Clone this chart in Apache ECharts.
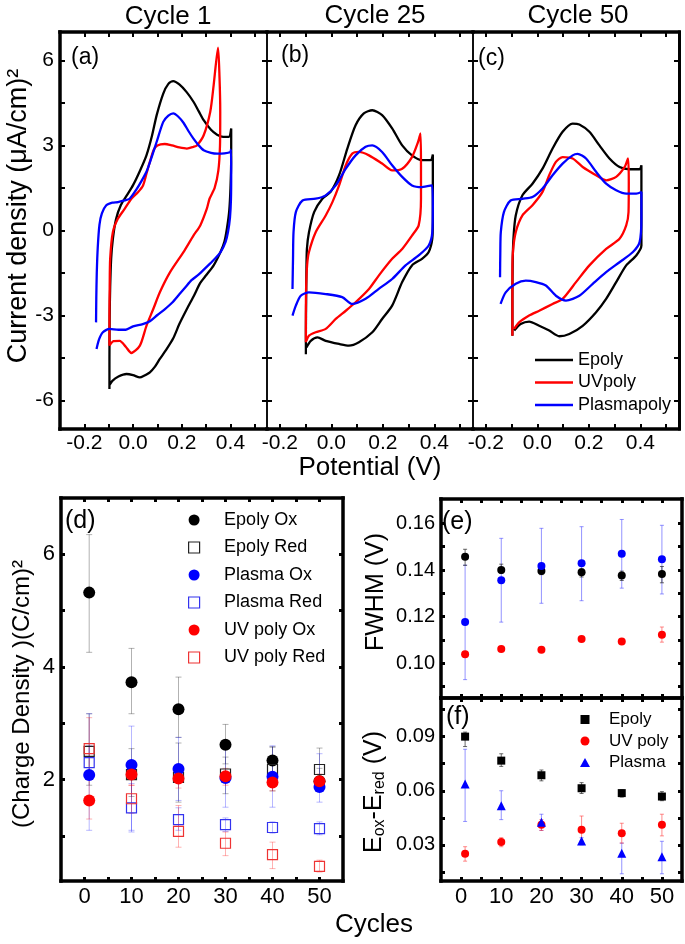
<!DOCTYPE html>
<html><head><meta charset="utf-8">
<script src="https://cdn.jsdelivr.net/npm/echarts@6/dist/echarts.min.js"></script>
<style>html,body{margin:0;padding:0;background:#fff}#c{width:685px;height:944px}</style>
</head><body><div id="c"></div>
<script>
const FF = '"Liberation Sans", Arial, sans-serif';

// ---------- CV curves: [potential (V), current density] ----------
const cv1Epoly = [[-0.097,-5.59],[-0.097,-4.5],[-0.096,-3.0],[-0.094,-2.0],[-0.090,-1.0],[-0.083,-0.3],[-0.070,0.4],[-0.050,0.9],[-0.025,1.25],[0.0,1.6],[0.028,2.1],[0.055,2.65],[0.078,3.35],[0.097,4.07],[0.124,4.83],[0.145,5.17],[0.165,5.27],[0.19,5.15],[0.22,4.88],[0.248,4.54],[0.27,4.2],[0.29,3.89],[0.32,3.55],[0.345,3.38],[0.37,3.3],[0.393,3.30],[0.403,3.6],[0.403,2.6],[0.400,1.5],[0.395,0.7],[0.386,0.1],[0.375,-0.4],[0.359,-0.76],[0.331,-1.23],[0.30,-1.58],[0.276,-1.85],[0.25,-2.3],[0.221,-2.77],[0.19,-3.3],[0.165,-3.8],[0.135,-4.22],[0.110,-4.53],[0.09,-4.8],[0.069,-5.0],[0.045,-5.12],[0.028,-5.18],[0.0,-5.1],[-0.027,-5.06],[-0.06,-5.15],[-0.085,-5.3],[-0.097,-5.45]];
const cv1UV = [[-0.097,-4.06],[-0.097,-3.0],[-0.096,-2.0],[-0.094,-1.0],[-0.083,-0.06],[-0.062,0.42],[-0.034,0.77],[-0.007,1.12],[0.02,1.35],[0.041,1.59],[0.055,2.0],[0.069,2.42],[0.085,2.85],[0.1,3.0],[0.13,3.05],[0.16,3.0],[0.19,2.93],[0.221,2.89],[0.248,2.95],[0.262,3.0],[0.29,3.36],[0.317,4.19],[0.331,5.13],[0.349,6.45],[0.355,5.4],[0.358,4.2],[0.357,3.0],[0.35,2.1],[0.335,1.5],[0.314,1.12],[0.303,0.77],[0.276,0.18],[0.248,-0.18],[0.207,-0.76],[0.152,-1.47],[0.11,-2.18],[0.083,-2.77],[0.055,-3.36],[0.028,-4.06],[-0.007,-4.32],[-0.03,-4.1],[-0.055,-3.89],[-0.08,-3.9],[-0.097,-4.06]];
const cv1Plasma = [[-0.152,-3.24],[-0.151,-2.4],[-0.149,-1.5],[-0.145,-0.6],[-0.138,0.2],[-0.128,0.6],[-0.11,0.89],[-0.085,0.98],[-0.062,1.0],[-0.035,1.06],[-0.014,1.12],[0.014,1.45],[0.035,1.75],[0.055,2.07],[0.075,2.55],[0.097,3.13],[0.124,3.83],[0.145,4.05],[0.165,4.13],[0.185,4.02],[0.207,3.8],[0.228,3.5],[0.248,3.24],[0.27,3.0],[0.29,2.83],[0.32,2.74],[0.345,2.71],[0.375,2.72],[0.4,2.77],[0.402,2.85],[0.403,2.0],[0.402,1.1],[0.398,0.45],[0.39,-0.05],[0.38,-0.4],[0.36,-0.75],[0.33,-1.05],[0.3,-1.3],[0.27,-1.55],[0.24,-1.75],[0.215,-2.0],[0.19,-2.25],[0.16,-2.55],[0.13,-2.78],[0.1,-2.98],[0.069,-3.2],[0.04,-3.3],[0.0,-3.38],[-0.03,-3.5],[-0.06,-3.5],[-0.097,-3.47],[-0.124,-3.59],[-0.14,-3.85],[-0.15,-4.18]];

const cv25Epoly = [[-0.099,-4.36],[-0.099,-3.5],[-0.098,-2.5],[-0.097,-1.5],[-0.095,-0.65],[-0.087,-0.06],[-0.067,0.65],[-0.035,1.12],[-0.003,1.36],[0.03,1.95],[0.062,2.89],[0.094,3.71],[0.126,4.13],[0.159,4.24],[0.197,4.07],[0.236,3.6],[0.275,3.0],[0.313,2.65],[0.352,2.48],[0.385,2.48],[0.394,2.68],[0.394,1.5],[0.394,0.3],[0.392,-0.29],[0.378,-0.76],[0.352,-1.0],[0.313,-1.23],[0.275,-1.82],[0.236,-2.65],[0.197,-3.12],[0.159,-3.59],[0.107,-3.94],[0.068,-4.06],[0.03,-4.0],[-0.022,-3.89],[-0.054,-3.77],[-0.08,-3.89],[-0.097,-4.12]];
const cv25UV = [[-0.099,-3.94],[-0.099,-3.0],[-0.098,-2.0],[-0.094,-1.2],[-0.087,-0.76],[-0.061,-0.06],[-0.022,0.53],[0.004,1.0],[0.03,1.59],[0.056,2.3],[0.081,2.71],[0.107,2.77],[0.146,2.65],[0.197,2.36],[0.236,2.12],[0.275,2.18],[0.313,2.59],[0.337,3.13],[0.346,3.42],[0.348,2.3],[0.348,1.12],[0.339,0.18],[0.313,-0.18],[0.275,-0.65],[0.236,-1.0],[0.184,-1.59],[0.146,-2.06],[0.094,-2.53],[0.056,-2.83],[0.017,-3.12],[-0.022,-3.47],[-0.061,-3.59],[-0.087,-3.71],[-0.097,-3.89]];
const cv25Plasma = [[-0.151,-2.06],[-0.149,-1.0],[-0.147,-0.06],[-0.138,0.65],[-0.112,1.06],[-0.061,1.12],[-0.022,1.24],[0.017,1.59],[0.056,2.18],[0.094,2.65],[0.133,2.95],[0.159,3.0],[0.197,2.77],[0.236,2.3],[0.275,1.89],[0.313,1.59],[0.352,1.53],[0.391,1.59],[0.394,0.89],[0.392,-0.06],[0.378,-0.53],[0.339,-0.88],[0.288,-1.23],[0.236,-1.71],[0.184,-2.06],[0.133,-2.41],[0.081,-2.59],[0.042,-2.35],[-0.022,-2.24],[-0.087,-2.18],[-0.119,-2.3],[-0.138,-2.65],[-0.151,-3.0]];

const cv50Epoly = [[-0.097,-3.71],[-0.097,-2.5],[-0.096,-1.2],[-0.093,-0.29],[-0.084,0.53],[-0.058,1.24],[-0.019,1.65],[0.02,2.18],[0.059,2.89],[0.098,3.48],[0.137,3.77],[0.163,3.74],[0.202,3.48],[0.241,3.0],[0.28,2.54],[0.319,2.24],[0.358,2.16],[0.397,2.16],[0.404,2.3],[0.404,1.0],[0.404,-0.53],[0.384,-0.88],[0.345,-1.23],[0.306,-1.82],[0.267,-2.41],[0.228,-2.88],[0.176,-3.36],[0.124,-3.65],[0.085,-3.73],[0.046,-3.53],[0.007,-3.36],[-0.032,-3.21],[-0.065,-3.3],[-0.09,-3.53]];
const cv50UV = [[-0.097,-3.71],[-0.097,-2.5],[-0.097,-1.5],[-0.095,-0.76],[-0.084,-0.06],[-0.058,0.53],[-0.019,0.89],[0.02,1.36],[0.046,1.95],[0.072,2.42],[0.098,2.59],[0.137,2.54],[0.176,2.24],[0.228,1.95],[0.267,1.77],[0.306,1.89],[0.339,2.24],[0.352,2.54],[0.355,1.71],[0.354,0.65],[0.345,0.18],[0.319,-0.29],[0.267,-0.65],[0.202,-1.23],[0.15,-1.82],[0.098,-2.41],[0.059,-2.59],[0.007,-2.83],[-0.032,-3.0],[-0.071,-3.24],[-0.09,-3.47]];
const cv50Plasma = [[-0.145,-1.65],[-0.144,-0.8],[-0.142,-0.06],[-0.13,0.65],[-0.104,1.06],[-0.058,1.12],[-0.019,1.18],[0.02,1.48],[0.059,1.95],[0.098,2.36],[0.137,2.65],[0.156,2.7],[0.189,2.54],[0.228,2.07],[0.267,1.65],[0.306,1.42],[0.345,1.3],[0.384,1.3],[0.404,1.36],[0.404,0.42],[0.397,-0.41],[0.371,-0.76],[0.319,-1.12],[0.267,-1.47],[0.215,-1.88],[0.163,-2.3],[0.111,-2.47],[0.072,-2.3],[0.033,-1.94],[-0.006,-1.82],[-0.045,-1.77],[-0.084,-1.88],[-0.123,-2.18],[-0.143,-2.59]];

const cvNames = ['Epoly', 'UVpoly', 'Plasmapoly'];
const cvTitles = ['Cycle 1', 'Cycle 25', 'Cycle 50'];

// ---------- cycle-dependent quantities ----------
const cycles = [1, 10, 20, 30, 40, 50];

const chargeEpolyOx = [5.32, 3.73, 3.25, 2.62, 2.34, 1.97];
const chargeEpolyOxLo = [4.26, 3.17, 2.75, 2.28, 2.12, 1.8];
const chargeEpolyOxHi = [6.35, 4.33, 3.82, 2.98, 2.58, 2.2];
const chargeEpolyRed = [2.5, 2.09, 2.04, 2.1, 2.18, 2.18];
const chargeEpolyRedLo = [1.9, 1.7, 1.6, 1.75, 1.8, 1.85];
const chargeEpolyRedHi = [3.17, 2.55, 2.65, 2.4, 2.58, 2.56];
const chargePlasmaOx = [2.08, 2.26, 2.19, 2.03, 2.05, 1.87];
const chargePlasmaOxLo = [1.1, 1.07, 1.63, 1.51, 1.51, 1.6];
const chargePlasmaOxHi = [3.17, 2.95, 2.75, 2.6, 2.6, 2.46];
const chargePlasmaRed = [2.3, 1.5, 1.29, 1.2, 1.15, 1.13];
const chargePlasmaRedLo = [2.0, 1.1, 1.1, 1.08, 1.05, 1.02];
const chargePlasmaRedHi = [2.6, 1.93, 1.5, 1.32, 1.25, 1.25];
const chargeUVOx = [1.63, 2.09, 2.02, 2.06, 1.95, 1.97];
const chargeUVOxLo = [1.3, 1.9, 1.85, 1.9, 1.8, 1.85];
const chargeUVOxHi = [2.0, 2.3, 2.2, 2.2, 2.1, 2.1];
const chargeUVRed = [2.55, 1.66, 1.08, 0.87, 0.67, 0.46];
const chargeUVRedLo = [2.0, 1.4, 0.8, 0.65, 0.42, 0.36];
const chargeUVRedHi = [3.1, 1.9, 1.54, 1.07, 0.89, 0.57];

const fwhmEpoly = [0.1457, 0.140, 0.1396, 0.139, 0.1376, 0.1383];
const fwhmEpolyLo = [0.142, 0.1385, 0.138, 0.137, 0.1355, 0.1345];
const fwhmEpolyHi = [0.1489, 0.1425, 0.141, 0.1405, 0.1395, 0.1415];
const fwhmPlasma = [0.1176, 0.1356, 0.1417, 0.1429, 0.147, 0.1446];
const fwhmPlasmaLo = [0.0929, 0.1176, 0.1257, 0.1268, 0.1322, 0.1297];
const fwhmPlasmaHi = [0.1421, 0.1536, 0.1579, 0.1586, 0.1617, 0.1592];
const fwhmUV = [0.1038, 0.106, 0.1057, 0.1103, 0.1093, 0.1122];
const fwhmUVLo = [0.1025, 0.105, 0.1047, 0.1093, 0.1083, 0.109];
const fwhmUVHi = [0.105, 0.107, 0.1067, 0.1113, 0.1103, 0.1155];

const dEEpoly = [0.090, 0.0767, 0.0686, 0.0614, 0.0587, 0.0568];
const dEEpolyLo = [0.0845, 0.0735, 0.0655, 0.0585, 0.0565, 0.0545];
const dEEpolyHi = [0.0925, 0.0805, 0.0715, 0.0645, 0.0605, 0.0595];
const dEUV = [0.0251, 0.0316, 0.0411, 0.0384, 0.0365, 0.0411];
const dEUVLo = [0.021, 0.029, 0.038, 0.032, 0.031, 0.035];
const dEUVHi = [0.029, 0.034, 0.044, 0.046, 0.042, 0.047];
const dEPlasma = [0.0638, 0.0517, 0.0425, 0.0322, 0.0254, 0.0235];
const dEPlasmaLo = [0.043, 0.044, 0.038, 0.030, 0.014, 0.014];
const dEPlasmaHi = [0.083, 0.060, 0.047, 0.034, 0.031, 0.032];

// ---------- tick values ----------
const cvXTicks = [-0.2, -0.1, 0, 0.1, 0.2, 0.3, 0.4, 0.5];
const cvXLabels = [-0.2, 0, 0.2, 0.4];
const cvYTicks = [-6, -4.5, -3, -1.5, 0, 1.5, 3, 4.5, 6];
const cvYLabels = [-6, -3, 0, 3, 6];
const cycTicks = [0, 5, 10, 15, 20, 25, 30, 35, 40, 45, 50];
const cycLabels = [0, 10, 20, 30, 40, 50];
const chargeTicks = [1, 2, 3, 4, 5, 6];
const chargeLabels = [2, 4, 6];
const fwhmTicks = [0.09, 0.10, 0.11, 0.12, 0.13, 0.14, 0.15, 0.16];
const fwhmLabels = [0.10, 0.12, 0.14, 0.16];
const dETicks = [0.015, 0.03, 0.045, 0.06, 0.075, 0.09, 0.105];
const dELabels = [0.03, 0.06, 0.09];

const BLACK = '#000000', RED = '#ff0000', BLUE = '#0000ff';

function ax(o) {
  return {
    type: 'value', gridIndex: o.g, min: o.min, max: o.max, position: o.pos,
    axisLine: {show: true, onZero: false, lineStyle: {color: '#000', width: o.lw, cap: 'square'}},
    axisTick: {show: true, inside: true, length: o.tl || 5, lineStyle: {color: '#000', width: o.tw || 2}, customValues: o.ticks},
    axisLabel: {show: !!o.labels, customValues: o.labels || [], formatter: o.fmt, fontSize: o.fs || 21,
      fontFamily: FF, color: '#000', margin: o.margin || 5},
    splitLine: {show: false}, minorTick: {show: false}, splitArea: {show: false}
  };
}
const f1 = v => Number(v).toFixed(1);
const f0 = v => String(Math.round(v));
const f2 = v => Number(v).toFixed(2);

const grids = [
  {left: 60, top: 32, width: 207, height: 397},
  {left: 267, top: 32, width: 206, height: 397},
  {left: 473, top: 32, width: 206, height: 397},
  {left: 61, top: 498, width: 282, height: 383},
  {left: 441, top: 499, width: 241, height: 199},
  {left: 441, top: 698, width: 241, height: 183}
];

const xAxes = [], yAxes = [];
const cvXRange = [[-0.3, 0.55], [-0.25, 0.55], [-0.25, 0.55]];
const leftW = [3.5, 1.5, 1.5], rightW = [1.5, 1.5, 3];
for (let g = 0; g < 3; g++) {
  xAxes.push(ax({g, min: cvXRange[g][0], max: cvXRange[g][1], pos: 'bottom', lw: 3.5, ticks: cvXTicks, labels: cvXLabels, fmt: f1, fs: 21, margin: 4}));
  xAxes.push(ax({g, min: cvXRange[g][0], max: cvXRange[g][1], pos: 'top', lw: 3.5, ticks: cvXTicks}));
  yAxes.push(ax({g, min: -7, max: 7, pos: 'left', lw: leftW[g], ticks: cvYTicks, labels: g === 0 ? cvYLabels : null, fmt: f0, fs: 21, margin: 6}));
  yAxes.push(ax({g, min: -7, max: 7, pos: 'right', lw: rightW[g], ticks: cvYTicks}));
}
// (d)
xAxes.push(ax({g: 3, min: -5, max: 55, pos: 'bottom', lw: 3.5, ticks: cycTicks, labels: cycLabels, fmt: f0, fs: 22, tl: 4, tw: 3, margin: 5}));
xAxes.push(ax({g: 3, min: -5, max: 55, pos: 'top', lw: 3.5, ticks: cycTicks, tl: 4, tw: 3}));
yAxes.push(ax({g: 3, min: 0.2, max: 7.0, pos: 'left', lw: 3.5, ticks: chargeTicks, labels: chargeLabels, fmt: f0, fs: 22, tl: 4, tw: 3, margin: 6}));
yAxes.push(ax({g: 3, min: 0.2, max: 7.0, pos: 'right', lw: 3.5, ticks: chargeTicks, tl: 4, tw: 3}));
// (e)
xAxes.push(ax({g: 4, min: -5, max: 55, pos: 'bottom', lw: 3.5, ticks: cycTicks, tl: 4, tw: 3}));
xAxes.push(ax({g: 4, min: -5, max: 55, pos: 'top', lw: 3.5, ticks: cycTicks, tl: 4, tw: 3}));
yAxes.push(ax({g: 4, min: 0.085, max: 0.1705, pos: 'left', lw: 3.5, ticks: fwhmTicks, labels: fwhmLabels, fmt: f2, fs: 20, tl: 4, tw: 3, margin: 6}));
yAxes.push(ax({g: 4, min: 0.085, max: 0.1705, pos: 'right', lw: 3.5, ticks: fwhmTicks, tl: 4, tw: 3}));
// (f)
xAxes.push(ax({g: 5, min: -5, max: 55, pos: 'bottom', lw: 3.5, ticks: cycTicks, labels: cycLabels, fmt: f0, fs: 22, tl: 4, tw: 3, margin: 5}));
xAxes.push(ax({g: 5, min: -5, max: 55, pos: 'top', lw: 3.5, ticks: cycTicks, tl: 4, tw: 3}));
yAxes.push(ax({g: 5, min: 0.01, max: 0.1114, pos: 'left', lw: 3.5, ticks: dETicks, labels: dELabels, fmt: f2, fs: 20, tl: 4, tw: 3, margin: 6}));
yAxes.push(ax({g: 5, min: 0.01, max: 0.1114, pos: 'right', lw: 3.5, ticks: dETicks, tl: 4, tw: 3}));

const series = [];
const cvSets = [[cv1Epoly, cv1UV, cv1Plasma], [cv25Epoly, cv25UV, cv25Plasma], [cv50Epoly, cv50UV, cv50Plasma]];
const cvColors = [BLACK, RED, BLUE];
cvSets.forEach((set, g) => {
  set.forEach((curve, k) => {
    series.push({type: 'line', name: cvNames[k], xAxisIndex: 2 * g, yAxisIndex: 2 * g, data: curve,
      showSymbol: false, symbol: 'none', smooth: 0.25, lineStyle: {color: cvColors[k], width: 2.3},
      itemStyle: {color: cvColors[k]}, z: 2 + k});
  });
});

function errSeries(xi, lo, hi, color, cap) {
  return {type: 'custom', name: '_err', coordinateSystem: 'cartesian2d', xAxisIndex: xi, yAxisIndex: xi, silent: true, z: 1,
    data: cycles.map((c, i) => [c, lo[i], hi[i]]), encode: {x: 0, y: [1, 2]},
    renderItem: function (params, api) {
      const x = api.value(0), a = api.coord([x, api.value(1)]), b = api.coord([x, api.value(2)]);
      const h = cap / 2, st = {stroke: color, lineWidth: 1, fill: null};
      return {type: 'group', children: [
        {type: 'line', shape: {x1: a[0], y1: a[1], x2: b[0], y2: b[1]}, style: st},
        {type: 'line', shape: {x1: a[0] - h, y1: a[1], x2: a[0] + h, y2: a[1]}, style: st},
        {type: 'line', shape: {x1: b[0] - h, y1: b[1], x2: b[0] + h, y2: b[1]}, style: st}]};
    }};
}
const SQ = 'path://M0,0L10,0L10,10L0,10Z';
const TRI = 'path://M5,0L10,9L0,9Z';
function sc(name, xi, vals, symbol, size, color, open, z) {
  return {type: 'scatter', name, xAxisIndex: xi, yAxisIndex: xi, data: cycles.map((c, i) => [c, vals[i]]),
    symbol, symbolSize: size, z: z || 3,
    itemStyle: open ? {color: 'rgba(255,255,255,0)', borderColor: color, borderWidth: 1.2, opacity: 1}
                    : {color, borderWidth: 0, opacity: 1}};
}
// (d)
const eK = 'rgba(0,0,0,0.3)', eB = 'rgba(0,0,255,0.28)', eR = 'rgba(255,0,0,0.3)';
series.push(errSeries(6, chargeEpolyOxLo, chargeEpolyOxHi, eK, 6));
series.push(errSeries(6, chargeEpolyRedLo, chargeEpolyRedHi, eK, 6));
series.push(errSeries(6, chargePlasmaOxLo, chargePlasmaOxHi, eB, 6));
series.push(errSeries(6, chargePlasmaRedLo, chargePlasmaRedHi, eB, 6));
series.push(errSeries(6, chargeUVOxLo, chargeUVOxHi, eR, 6));
series.push(errSeries(6, chargeUVRedLo, chargeUVRedHi, eR, 6));
series.push(sc('Epoly Ox', 6, chargeEpolyOx, 'circle', 12, BLACK, false, 3));
series.push(sc('Epoly Red', 6, chargeEpolyRed, SQ, 10, '#222', true, 3));
series.push(sc('Plasma Ox', 6, chargePlasmaOx, 'circle', 12, BLUE, false, 4));
series.push(sc('Plasma Red', 6, chargePlasmaRed, SQ, 10, '#3333ee', true, 4));
series.push(sc('UV poly Ox', 6, chargeUVOx, 'circle', 12, RED, false, 5));
series.push(sc('UV poly Red', 6, chargeUVRed, SQ, 10, '#ee3333', true, 5));
// (e)
series.push(errSeries(8, fwhmPlasmaLo, fwhmPlasmaHi, 'rgba(60,60,255,0.55)', 4));
series.push(errSeries(8, fwhmEpolyLo, fwhmEpolyHi, 'rgba(40,40,40,0.7)', 4));
series.push(errSeries(8, fwhmUVLo, fwhmUVHi, 'rgba(255,60,60,0.6)', 4));
series.push(sc('FWHM Epoly', 8, fwhmEpoly, 'circle', 8, BLACK, false));
series.push(sc('FWHM Plasma', 8, fwhmPlasma, 'circle', 8, BLUE, false));
series.push(sc('FWHM UV', 8, fwhmUV, 'circle', 8, RED, false));
// (f)
series.push(errSeries(10, dEPlasmaLo, dEPlasmaHi, 'rgba(60,60,255,0.55)', 4));
series.push(errSeries(10, dEEpolyLo, dEEpolyHi, 'rgba(40,40,40,0.7)', 4));
series.push(errSeries(10, dEUVLo, dEUVHi, 'rgba(255,60,60,0.6)', 4));
series.push(sc('Epoly ', 10, dEEpoly, SQ, 8, BLACK, false));
series.push(sc('UV poly', 10, dEUV, 'circle', 8, RED, false));
series.push(sc('Plasma', 10, dEPlasma, TRI, 9, BLUE, false));

function T(text, x, y, size, align, rot, rich) {
  const st = {text, x: 0, y: 0, fontSize: size, fontFamily: FF, fill: '#000',
    align: align || 'center', verticalAlign: 'middle', textAlign: align || 'center', textVerticalAlign: 'middle'};
  if (rich) st.rich = rich;
  return {type: 'text', x, y, rotation: rot || 0, silent: true, style: st};
}
const R90 = Math.PI / 2;
const graphics = [
  T(cvTitles[0], 168, 17, 26), T(cvTitles[1], 375, 16, 26), T(cvTitles[2], 578, 16, 26),
  T('(a)', 71, 58, 23, 'left'), T('(b)', 281, 56, 23, 'left'), T('(c)', 478, 59, 23, 'left'),
  T('(d)', 65, 521, 25, 'left'), T('(e)', 442, 522, 25, 'left'), T('(f)', 446, 717, 25, 'left'),
  T('Potential (V)', 370, 468, 26),
  T('Cycles', 374, 925, 26),
  T('Current density (\u03bcA/cm)\u00b2', 19, 216, 27, 'center', R90),
  T('(Charge Density )(C/cm)\u00b2', 22, 694, 24, 'center', R90),
  T('FWHM (V)', 376, 592, 25, 'center', R90),
  T('{n|E}{s|ox}{n|-E}{s|red}{n| (V)}', 374, 792, 25, 'center', R90,
    {n: {fontSize: 25, fontFamily: FF, fill: '#000', color: '#000'}, s: {fontSize: 16, fontFamily: FF, fill: '#000', color: '#000', padding: [12, 0, 0, 0]}})
];

const legends = [
  {data: cvNames, orient: 'vertical', left: 535, top: 351, padding: 0, icon: 'rect', itemWidth: 38, itemHeight: 2.5, itemGap: 4.5,
    selectedMode: false, textStyle: {fontSize: 18, fontFamily: FF, color: '#000'}},
  {data: [
      {name: 'Epoly Ox', icon: 'circle'},
      {name: 'Epoly Red', icon: SQ, itemStyle: {color: 'rgba(255,255,255,0)', borderColor: '#222', borderWidth: 1.2}},
      {name: 'Plasma Ox', icon: 'circle'},
      {name: 'Plasma Red', icon: SQ, itemStyle: {color: 'rgba(255,255,255,0)', borderColor: '#3333ee', borderWidth: 1.2}},
      {name: 'UV poly Ox', icon: 'circle'},
      {name: 'UV poly Red', icon: SQ, itemStyle: {color: 'rgba(255,255,255,0)', borderColor: '#ee3333', borderWidth: 1.2}}],
    orient: 'vertical', left: 188, top: 511, padding: 0, itemWidth: 50, itemHeight: 11, itemGap: 9.5, symbolKeepAspect: true,
    selectedMode: false, textStyle: {fontSize: 18, fontFamily: FF, color: '#000'}},
  {data: [{name: 'Epoly ', icon: SQ}, {name: 'UV poly', icon: 'circle'}, {name: 'Plasma', icon: TRI}],
    orient: 'vertical', left: 580, top: 711, padding: 0, itemWidth: 38, itemHeight: 9, itemGap: 4.5, symbolKeepAspect: true,
    selectedMode: false, textStyle: {fontSize: 17, fontFamily: FF, color: '#000'}}
];

const chart = echarts.init(document.getElementById('c'), null, {renderer: 'canvas'});
chart.setOption({
  animation: false,
  backgroundColor: '#fff',
  textStyle: {fontFamily: FF},
  grid: grids.map(g => Object.assign({containLabel: false, outerBoundsMode: 'none'}, g)),
  xAxis: xAxes, yAxis: yAxes,
  legend: legends,
  tooltip: {show: false},
  series,
  graphic: {elements: graphics}
});
</script>
</body></html>
